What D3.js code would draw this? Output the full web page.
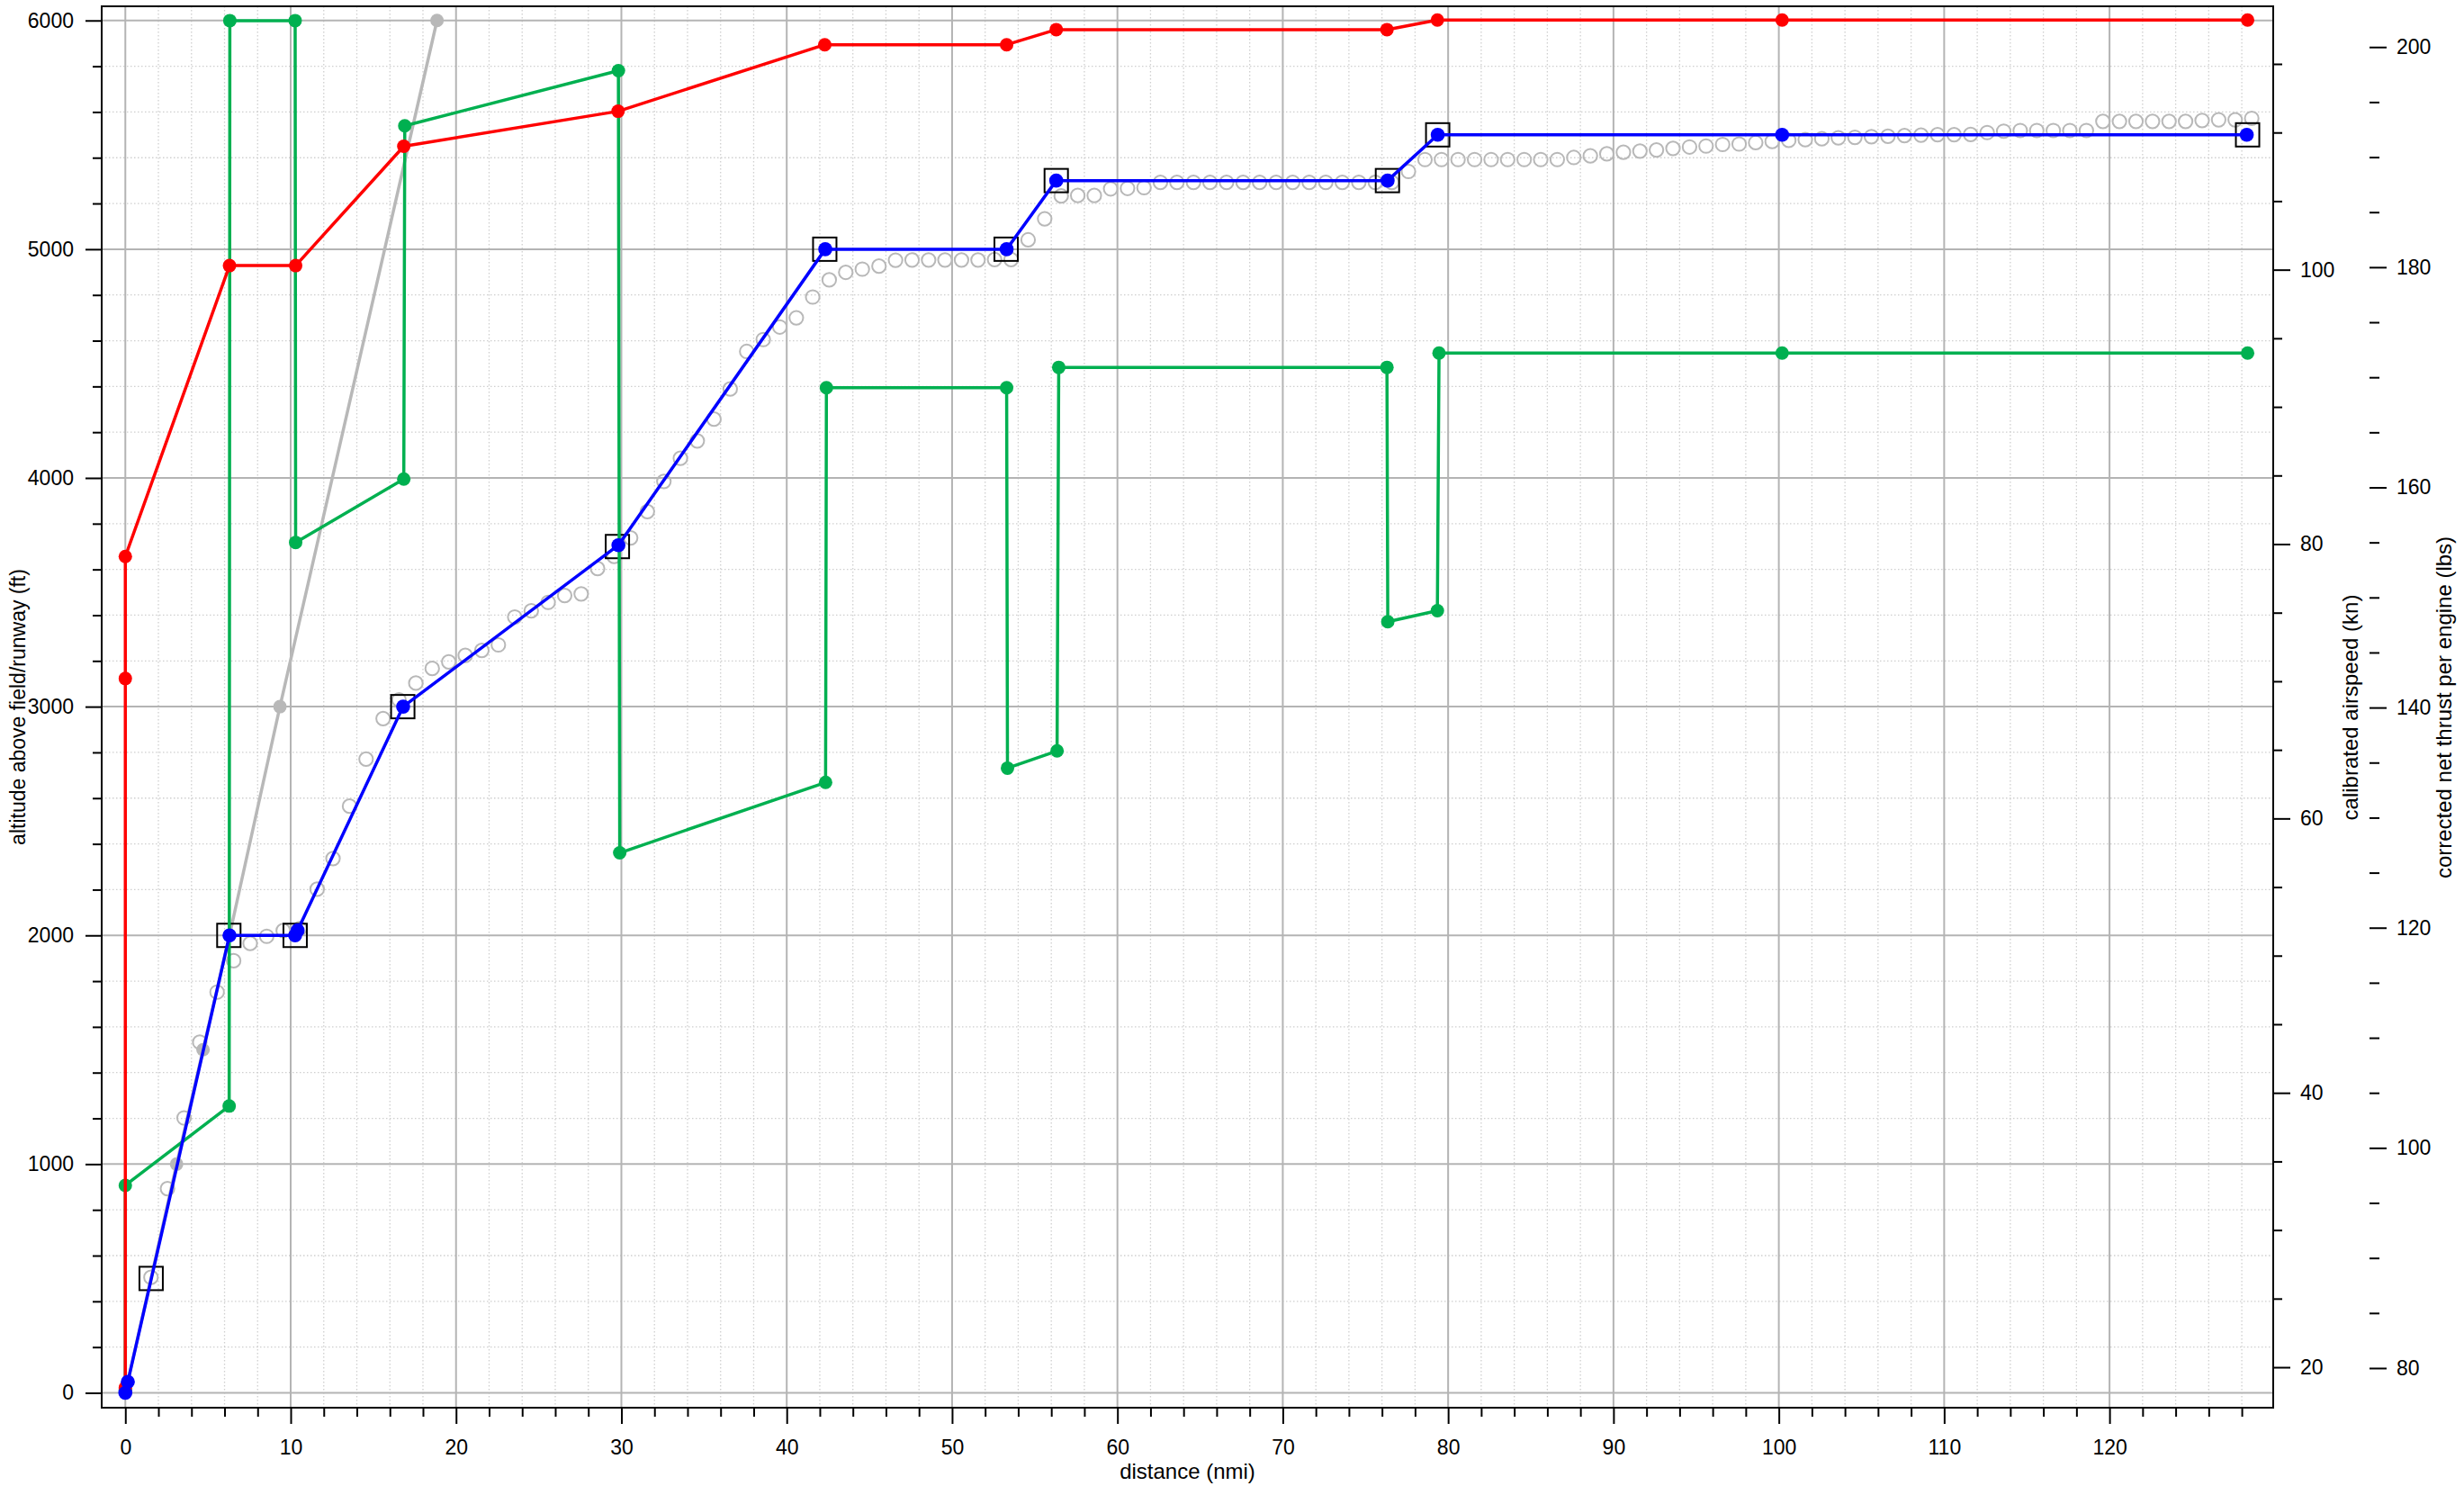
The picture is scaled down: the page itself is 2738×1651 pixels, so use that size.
<!DOCTYPE html>
<html>
<head>
<meta charset="utf-8">
<script src="https://cdn.jsdelivr.net/npm/d3@7"></script>
<style>
  body { margin: 0; background: #fff; }
  text { font-family: 'Liberation Sans', Arial, sans-serif; fill: #000; }
</style>
</head>
<body>
<svg id="chart"></svg>
<script>
// ---- data ----

// planned altitude profile (ft) with its target boxes
let blueDist = [0, 0.15, 6.3, 10.27, 10.42, 16.8, 29.82, 42.33, 53.3, 56.3, 76.34, 79.37, 100.2, 128.3];
let blueAlt = [0, 48, 2000, 2000, 2022, 3000, 3706, 5000, 5000, 5300, 5300, 5500, 5500, 5500];

let boxDist = [1.56, 6.26, 10.27, 16.78, 29.76, 42.3, 53.27, 56.3, 76.33, 79.37, 128.35];
let boxAlt = [500, 2000, 2000, 3000, 3700, 5000, 5000, 5300, 5300, 5500, 5500];

// calibrated airspeed (kn)
let redDist = [0, 0, 0, 6.3, 10.3, 16.84, 29.8, 42.3, 53.3, 56.3, 76.3, 79.35, 100.2, 128.35];
let redKn = [18.5, 70.2, 79.1, 100.3, 100.3, 109.0, 111.55, 116.4, 116.4, 117.5, 117.5, 118.2, 118.2, 118.2];

// corrected net thrust per engine (lbs)
let greenDist = [0, 0, 6.28, 6.32, 10.27, 10.3, 16.84, 16.9, 29.82, 29.9, 42.35, 42.4, 53.3, 53.35,
	56.35, 56.45, 76.3, 76.35, 79.35, 79.45, 100.2, 128.35];
let greenLbs = [78, 96.6, 103.8, 202.4, 202.4, 155.0, 160.75, 192.85, 197.85, 126.8, 133.2, 169.06, 169.06, 134.5,
	136.06, 170.9, 170.9, 147.8, 148.8, 172.2, 172.2, 172.2];

// climb gradient reference (ft)
let grayDist = [0, 3.1, 4.7, 6.3, 9.35, 18.85];
let grayAlt = [0, 1000, 1500, 2000, 3000, 6000];

// flown altitude samples (ft)
let hollowDist = [1.55, 2.55, 3.55, 4.5, 5.55, 6.55, 7.55, 8.55, 9.55, 10.55,
	11.6, 12.56, 13.56, 14.56, 15.59, 16.55, 17.57, 18.56, 19.56, 20.56,
	21.56, 22.56, 23.55, 24.55, 25.57, 26.57, 27.57, 28.56, 29.56, 30.56,
	31.57, 32.57, 33.57, 34.59, 35.6, 36.58, 37.58, 38.58, 39.58, 40.58,
	41.57, 42.57, 43.57, 44.57, 45.58, 46.58, 47.58, 48.58, 49.57, 50.57,
	51.57, 52.57, 53.57, 54.6, 55.6, 56.6, 57.6, 58.6, 59.59, 60.61,
	61.61, 62.6, 63.6, 64.6, 65.6, 66.6, 67.6, 68.6, 69.6, 70.6,
	71.6, 72.6, 73.6, 74.6, 75.6, 76.6, 77.6, 78.6, 79.6, 80.6,
	81.6, 82.6, 83.6, 84.6, 85.6, 86.6, 87.6, 88.6, 89.6, 90.6,
	91.6, 92.6, 93.6, 94.6, 95.6, 96.6, 97.6, 98.6, 99.6, 100.6,
	101.6, 102.6, 103.6, 104.6, 105.6, 106.6, 107.6, 108.6, 109.6, 110.6,
	111.6, 112.6, 113.6, 114.6, 115.6, 116.6, 117.6, 118.6, 119.6, 120.6,
	121.6, 122.6, 123.6, 124.6, 125.6, 126.6, 127.6, 128.6];
let hollowAlt = [505, 893, 1202, 1533, 1752, 1889, 1965, 1996, 2021, 2030,
	2202, 2336, 2565, 2771, 2948, 3030, 3103, 3167, 3196, 3224,
	3246, 3270, 3392, 3419, 3456, 3486, 3493, 3604, 3657, 3738,
	3853, 3985, 4086, 4162, 4257, 4389, 4553, 4605, 4660, 4700,
	4791, 4866, 4899, 4913, 4926, 4952, 4953, 4953, 4953, 4953,
	4953, 4955, 4955, 5041, 5133, 5233, 5235, 5235, 5264, 5266,
	5269, 5292, 5292, 5292, 5292, 5292, 5292, 5292, 5292, 5292,
	5292, 5292, 5292, 5292, 5292, 5292, 5340, 5392, 5392, 5392,
	5392, 5392, 5392, 5392, 5392, 5392, 5401, 5408, 5417, 5424,
	5429, 5434, 5441, 5447, 5451, 5458, 5460, 5466, 5471, 5476,
	5479, 5483, 5487, 5489, 5492, 5494, 5497, 5499, 5501, 5501,
	5502, 5510, 5516, 5519, 5519, 5519, 5519, 5519, 5559, 5559,
	5559, 5559, 5559, 5559, 5563, 5566, 5566, 5572];

// tick labels
let distTicks = [0, 10, 20, 30, 40, 50, 60, 70, 80, 90, 100, 110, 120];
let altTicks = [0, 1000, 2000, 3000, 4000, 5000, 6000];
let knTicks = [20, 40, 60, 80, 100];
let lbsTicks = [80, 100, 120, 140, 160, 180, 200];

// ---- layout ----
let W = 2738, H = 1651;
let FL = 113, FR = 2526, FT = 7, FB = 1564; // plot frame

let svg = d3.select('#chart').attr('width', W).attr('height', H);
svg.append('rect').attr('width', W).attr('height', H).attr('fill', '#fff');

let xScale = d3.scaleLinear().domain([-1.43, 129.9]).range([FL, FR]);
let altScale = d3.scaleLinear().domain([-65, 6062]).range([FB, FT]);
let knScale = d3.scaleLinear().domain([17.05, 119.2]).range([FB, FT]);
let lbsScale = d3.scaleLinear().domain([76.4, 203.7]).range([FB, FT]);

let distMinor = d3.range(0, 130, 2).filter(d => d % 10 !== 0);
let altMinor = d3.range(0, 6062, 200).filter(d => d % 1000 !== 0);
let knMinor = d3.range(20, 120, 5).filter(d => d % 20 !== 0);
let lbsMinor = d3.range(80, 204, 5).filter(d => d % 20 !== 0);

svg.append('clipPath').attr('id', 'plotclip').append('rect')
		.attr('x', FL).attr('y', FT).attr('width', FR - FL).attr('height', FB - FT);

// grid: dotted every 2 nmi / 200 ft, solid at the labelled ticks
let grid = svg.append('g');
grid.selectAll('.vminor').data(distMinor).enter().append('line')
		.attr('x1', d => xScale(d)).attr('x2', d => xScale(d)).attr('y1', FT).attr('y2', FB)
		.attr('stroke', '#cfcfcf').attr('stroke-width', 1.3).attr('stroke-dasharray', '1.5,2.5');
grid.selectAll('.hminor').data(altMinor).enter().append('line')
		.attr('x1', FL).attr('x2', FR).attr('y1', d => altScale(d)).attr('y2', d => altScale(d))
		.attr('stroke', '#cfcfcf').attr('stroke-width', 1.3).attr('stroke-dasharray', '1.5,2.5');
grid.selectAll('.vmajor').data(distTicks).enter().append('line')
		.attr('x1', d => xScale(d)).attr('x2', d => xScale(d)).attr('y1', FT).attr('y2', FB)
		.attr('stroke', '#b4b4b4').attr('stroke-width', 2);
grid.selectAll('.hmajor').data(altTicks).enter().append('line')
		.attr('x1', FL).attr('x2', FR).attr('y1', d => altScale(d)).attr('y2', d => altScale(d))
		.attr('stroke', '#b4b4b4').attr('stroke-width', 2);

let plot = svg.append('g').attr('clip-path', 'url(#plotclip)');

// Draw one connected series with filled dots
function drawSeries(xs, ys, yScale, color, r) {
	let pts = xs.map((d, i) => [xScale(d), yScale(ys[i])]);
	plot.append('path').attr('d', d3.line()(pts))
			.attr('fill', 'none').attr('stroke', color).attr('stroke-width', 3.5)
			.attr('stroke-linejoin', 'round').attr('stroke-linecap', 'round');
	plot.append('g').selectAll('circle').data(pts).enter().append('circle')
			.attr('cx', d => d[0]).attr('cy', d => d[1]).attr('r', r).attr('fill', color);
}

drawSeries(grayDist, grayAlt, altScale, '#b8b8b8', 7.5);

// flown altitude, open circles
plot.append('g').selectAll('circle').data(hollowDist).enter().append('circle')
		.attr('cx', d => xScale(d))
		.attr('cy', (d, i) => altScale(hollowAlt[i]))
		.attr('r', 7.6).attr('fill', 'none').attr('stroke', '#b8b8b8').attr('stroke-width', 2);

// target boxes
plot.append('g').selectAll('rect').data(boxDist).enter().append('rect')
		.attr('x', d => xScale(d) - 13)
		.attr('y', (d, i) => altScale(boxAlt[i]) - 13)
		.attr('width', 26).attr('height', 26)
		.attr('fill', 'none').attr('stroke', '#000').attr('stroke-width', 2);

drawSeries(greenDist, greenLbs, lbsScale, '#00b050', 7.5);
drawSeries(redDist, redKn, knScale, '#ff0000', 7.5);
drawSeries(blueDist, blueAlt, altScale, '#0000ff', 7.8);

// frame
svg.append('rect').attr('x', FL).attr('y', FT).attr('width', FR - FL).attr('height', FB - FT)
		.attr('fill', 'none').attr('stroke', '#000').attr('stroke-width', 2);

// ---- axes ----
function styleAxis(g, size) {
	g.select('.domain').remove();
	g.selectAll('line').attr('stroke', '#000').attr('stroke-width', 2);
	g.selectAll('text').attr('font-size', size).attr('font-family', "'Liberation Sans', Arial, sans-serif");
}

// bottom: distance
svg.append('g').attr('transform', `translate(0, ${FB})`)
		.call(d3.axisBottom(xScale).tickValues(distMinor).tickSize(10).tickFormat(''))
		.call(g => styleAxis(g, 23));
svg.append('g').attr('transform', `translate(0, ${FB})`)
		.call(d3.axisBottom(xScale).tickValues(distTicks).tickSize(18).tickPadding(18).tickFormat(d3.format('d')))
		.call(g => styleAxis(g, 23));

// left: altitude
svg.append('g').attr('transform', `translate(${FL}, 0)`)
		.call(d3.axisLeft(altScale).tickValues(altMinor).tickSize(10).tickFormat(''))
		.call(g => styleAxis(g, 23));
svg.append('g').attr('transform', `translate(${FL}, 0)`)
		.call(d3.axisLeft(altScale).tickValues(altTicks).tickSize(18).tickPadding(13).tickFormat(d3.format('d')))
		.call(g => styleAxis(g, 23));

// right: airspeed
svg.append('g').attr('transform', `translate(${FR}, 0)`)
		.call(d3.axisRight(knScale).tickValues(knMinor).tickSize(10).tickFormat(''))
		.call(g => styleAxis(g, 23));
svg.append('g').attr('transform', `translate(${FR}, 0)`)
		.call(d3.axisRight(knScale).tickValues(knTicks).tickSize(19).tickPadding(11).tickFormat(d3.format('d')))
		.call(g => styleAxis(g, 23));

// far right: thrust (no axis line)
let LX = 2633;
svg.append('g').attr('transform', `translate(${LX}, 0)`)
		.call(d3.axisRight(lbsScale).tickValues(lbsMinor).tickSize(11).tickFormat(''))
		.call(g => styleAxis(g, 23));
svg.append('g').attr('transform', `translate(${LX}, 0)`)
		.call(d3.axisRight(lbsScale).tickValues(lbsTicks).tickSize(19).tickPadding(11).tickFormat(d3.format('d')))
		.call(g => styleAxis(g, 23));

// axis titles
svg.append('text').text('distance (nmi)')
		.attr('x', (FL + FR) / 2).attr('y', 1643)
		.attr('text-anchor', 'middle').attr('font-size', 24);

svg.append('text').text('altitude above field/runway (ft)')
		.attr('transform', `translate(28, ${(FT + FB) / 2}) rotate(-90)`)
		.attr('text-anchor', 'middle').attr('font-size', 23);

svg.append('text').text('calibrated airspeed (kn)')
		.attr('transform', 'translate(2620, 786) rotate(-90)')
		.attr('text-anchor', 'middle').attr('font-size', 24);

svg.append('text').text('corrected net thrust per engine (lbs)')
		.attr('transform', 'translate(2724, 786) rotate(-90)')
		.attr('text-anchor', 'middle').attr('font-size', 24);
</script>
</body>
</html>
